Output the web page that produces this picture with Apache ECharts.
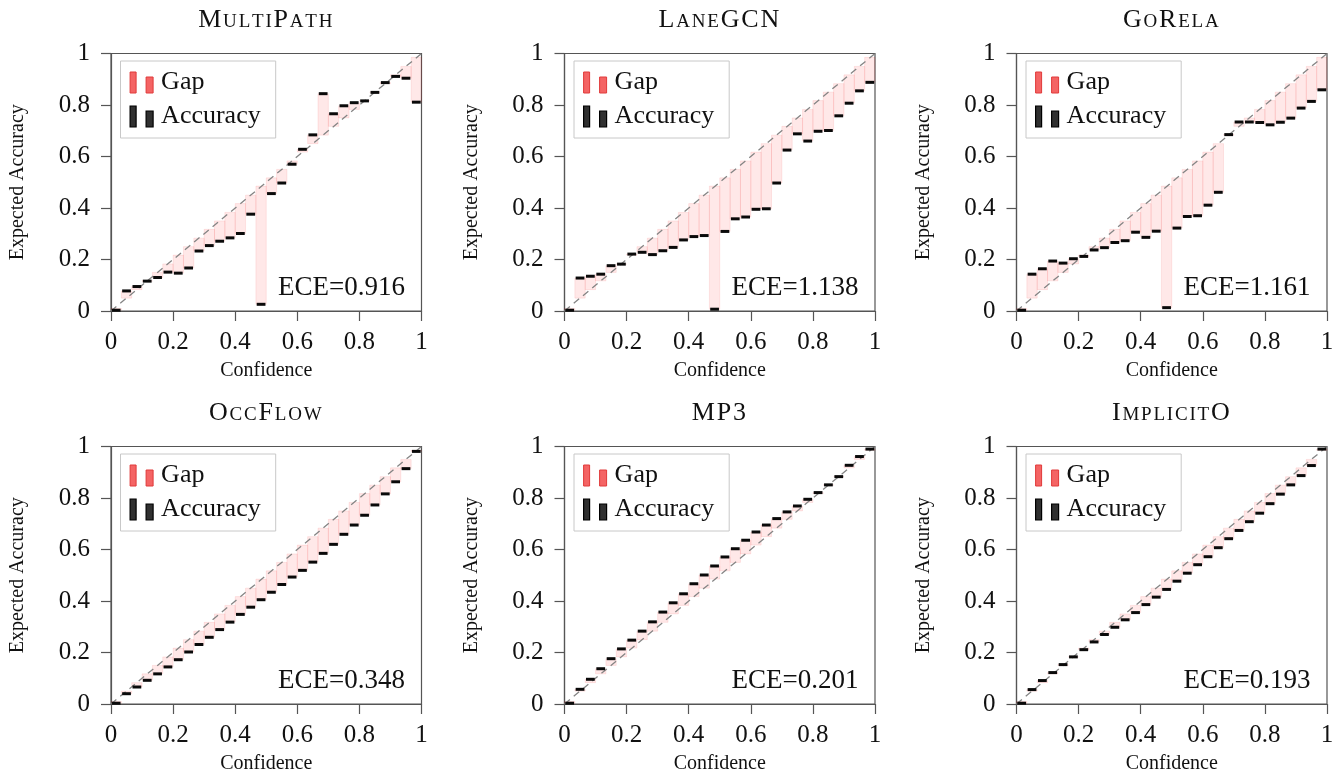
<!DOCTYPE html>
<html><head><meta charset="utf-8">
<script src="https://cdn.jsdelivr.net/npm/echarts@6/dist/echarts.min.js"></script>
<style>html,body{margin:0;padding:0;background:#fff}#c{width:1344px;height:777px}</style>
</head><body><div id="c"></div>
<script>
const FONT = '"Liberation Serif","Times New Roman",serif';

// ---------- data ----------
const panelTitles = ['MultiPath', 'LaneGCN', 'GoRela', 'OccFlow', 'MP3', 'ImplicitO'];
const eceLabels = ['ECE=0.916', 'ECE=1.138', 'ECE=1.161', 'ECE=0.348', 'ECE=0.201', 'ECE=0.193'];
const axisTicks = [0, 0.2, 0.4, 0.6, 0.8, 1];
const binCount = 30;
// mean confidence of each bin (top of the gap bar)
const binConfidence = [0.01, 0.05, 0.083, 0.117, 0.15, 0.183, 0.217, 0.25, 0.283, 0.317,
  0.35, 0.383, 0.417, 0.45, 0.485, 0.517, 0.55, 0.583, 0.617, 0.65,
  0.683, 0.717, 0.75, 0.783, 0.817, 0.85, 0.883, 0.917, 0.95, 0.985];
const accMultiPath = [0.003, 0.078, 0.095, 0.116, 0.130, 0.151, 0.147, 0.167, 0.233, 0.254,
  0.271, 0.284, 0.301, 0.376, 0.026, 0.456, 0.497, 0.570, 0.628, 0.684,
  0.844, 0.766, 0.797, 0.809, 0.816, 0.849, 0.887, 0.911, 0.904, 0.811];
const accLaneGCN = [0.003, 0.128, 0.135, 0.143, 0.176, 0.182, 0.221, 0.228, 0.219, 0.234,
  0.247, 0.276, 0.289, 0.293, 0.007, 0.309, 0.358, 0.365, 0.395, 0.397,
  0.497, 0.625, 0.688, 0.660, 0.698, 0.701, 0.758, 0.807, 0.855, 0.888];
const accGoRela = [0.003, 0.143, 0.164, 0.194, 0.186, 0.203, 0.212, 0.237, 0.246, 0.266,
  0.273, 0.306, 0.286, 0.310, 0.013, 0.322, 0.367, 0.370, 0.411, 0.461,
  0.685, 0.734, 0.734, 0.732, 0.723, 0.733, 0.749, 0.788, 0.814, 0.859];
const accOccFlow = [0.003, 0.040, 0.066, 0.092, 0.117, 0.144, 0.172, 0.202, 0.231, 0.259,
  0.289, 0.318, 0.348, 0.376, 0.405, 0.434, 0.464, 0.493, 0.519, 0.551,
  0.585, 0.620, 0.659, 0.695, 0.733, 0.773, 0.816, 0.863, 0.914, 0.981];
const accMP3 = [0.003, 0.057, 0.096, 0.137, 0.176, 0.214, 0.248, 0.283, 0.319, 0.357,
  0.393, 0.428, 0.467, 0.501, 0.536, 0.571, 0.603, 0.636, 0.668, 0.695,
  0.720, 0.746, 0.769, 0.795, 0.821, 0.851, 0.883, 0.927, 0.961, 0.990];
const accImplicitO = [0.003, 0.056, 0.091, 0.122, 0.153, 0.183, 0.211, 0.241, 0.270, 0.298,
  0.327, 0.355, 0.386, 0.415, 0.445, 0.477, 0.508, 0.541, 0.572, 0.607,
  0.642, 0.674, 0.708, 0.741, 0.778, 0.815, 0.851, 0.887, 0.926, 0.990];
const panelAccuracy = [accMultiPath, accLaneGCN, accGoRela, accOccFlow, accMP3, accImplicitO];

// ---------- layout ----------
const colLeft = [111, 564.5, 1016.5];
const rowTop = [53.5, 446.5];
const W = 310.5, H = 257.5;
const AXC = '#555';

function smallCaps(str) {
  let out = '';
  for (const ch of str) {
    if (ch >= 'a' && ch <= 'z') out += '{s|' + ch.toUpperCase() + '}';
    else out += '{b|' + ch + '}';
  }
  return out;
}

function gapRender(params, api) {
  const lo = api.value(0), hi = api.value(1), a = api.value(2), c = api.value(3);
  const p1 = api.coord([lo, Math.max(a, c)]);
  const p2 = api.coord([hi, Math.min(a, c)]);
  return {
    type: 'rect',
    shape: { x: p1[0], y: p1[1], width: p2[0] - p1[0], height: p2[1] - p1[1] },
    style: { fill: 'rgba(255,0,0,0.09)', stroke: 'rgba(235,0,0,0.11)', lineWidth: 0.8 }
  };
}
function accRender(params, api) {
  const lo = api.value(0), hi = api.value(1), a = api.value(2);
  const p1 = api.coord([lo, a]);
  const p2 = api.coord([hi, a]);
  return {
    type: 'rect',
    shape: { x: p1[0] + 0.8, y: p1[1] - 1.5, width: p2[0] - p1[0] - 1.6, height: 3 },
    style: { fill: '#0a0a0a' }
  };
}

const gapIcon = 'path://M0,0h6v21h-6z M16,5h7v16h-7z';

const grid = [], xAxis = [], yAxis = [], series = [], legend = [], graphic = [];
for (let p = 0; p < 6; p++) {
  const col = p % 3, row = Math.floor(p / 3);
  const L = colLeft[col], T = rowTop[row];
  grid.push({ left: L, top: T, width: W, height: H, show: true, borderColor: AXC, borderWidth: 1.2, backgroundColor: 'transparent' });
  const axisCommon = {
    gridIndex: p, type: 'value', min: 0, max: 1, interval: 0.2,
    axisLine: { show: true, onZero: false, lineStyle: { color: AXC, width: 1.2 } },
    axisTick: { show: true, inside: false, length: 10, lineStyle: { color: AXC, width: 1.2 } },
    splitLine: { show: false },
    nameLocation: 'middle',
    nameTextStyle: { fontFamily: FONT, fontSize: 20, color: '#111' }
  };
  xAxis.push(Object.assign({}, axisCommon, {
    name: 'Confidence', nameGap: 50,
    axisLabel: { margin: 19, fontFamily: FONT, fontSize: 25, color: '#111' }
  }));
  yAxis.push(Object.assign({}, axisCommon, {
    name: 'Expected Accuracy', nameGap: 83,
    axisLabel: { margin: 21, fontFamily: FONT, fontSize: 25, color: '#111' }
  }));

  const acc = panelAccuracy[p];
  const data = [];
  for (let i = 0; i < binCount; i++) {
    data.push([i / binCount, (i + 1) / binCount, acc[i], binConfidence[i]]);
  }
  series.push({
    name: 'Gap', type: 'custom', xAxisIndex: p, yAxisIndex: p, renderItem: gapRender,
    data: data, encode: { x: [0, 1], y: [2, 3] }, clip: true, z: 1, silent: true,
    itemStyle: { color: '#f46464' }
  });
  series.push({
    name: 'diag', type: 'line', xAxisIndex: p, yAxisIndex: p, data: [[0, 0], [1, 1]],
    symbol: 'none', silent: true, z: 2,
    lineStyle: { color: '#858585', width: 1.3, type: [7, 5] }
  });
  series.push({
    name: 'Accuracy', type: 'custom', xAxisIndex: p, yAxisIndex: p, renderItem: accRender,
    data: data, encode: { x: [0, 1], y: 2 }, clip: false, z: 3, silent: true,
    itemStyle: { color: '#2c2c2c' }
  });

  legend.push({
    left: L + 9.5, top: T + 7.5, orient: 'vertical', selectedMode: false,
    padding: [8.5, 15, 8.5, 9], itemGap: 8, itemWidth: 23, itemHeight: 21,
    borderColor: '#c8c8c8', borderWidth: 1, backgroundColor: '#fff', borderRadius: 0,
    textStyle: { fontFamily: FONT, fontSize: 26, color: '#111', padding: [0, 0, 0, 3] },
    data: [
      { name: 'Gap', icon: gapIcon, itemStyle: { color: '#f46464', borderColor: '#e03a3a', borderWidth: 1 } },
      { name: 'Accuracy', icon: gapIcon, itemStyle: { color: '#303030', borderColor: '#000', borderWidth: 1.2 } }
    ]
  });

  graphic.push({
    type: 'text', x: L + W / 2, y: T - 35, z: 10,
    style: {
      text: smallCaps(panelTitles[p]), align: 'center', verticalAlign: 'middle',
      rich: {
        b: { fontFamily: FONT, fontSize: 26, fill: '#111', padding: [0, 1.8, 0, 0], verticalAlign: 'bottom', lineHeight: 30 },
        s: { fontFamily: FONT, fontSize: 19, fill: '#111', padding: [0, 1.8, 1.5, 0], verticalAlign: 'bottom', lineHeight: 30 }
      }
    }
  });
  graphic.push({
    type: 'text', x: L + W - 16.5, y: T + 234, z: 10,
    style: { text: eceLabels[p], align: 'right', verticalAlign: 'middle', font: '27px ' + FONT, fill: '#111' }
  });
}

const chart = echarts.init(document.getElementById('c'), null, { renderer: 'canvas' });
chart.setOption({
  backgroundColor: '#fff', animation: false,
  grid, xAxis, yAxis, series, legend, graphic
});
</script></body></html>
